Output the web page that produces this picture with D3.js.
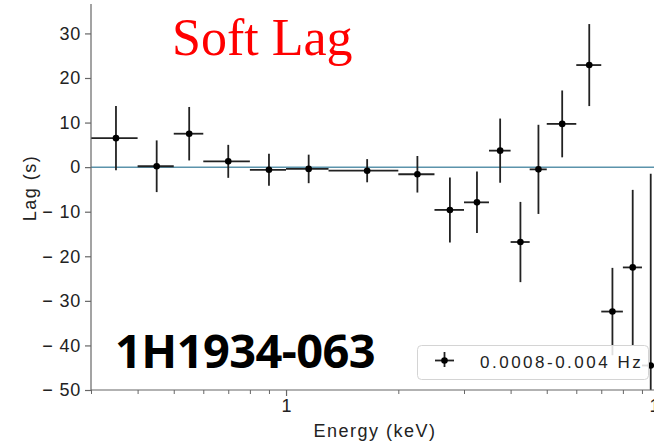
<!DOCTYPE html>
<html>
<head>
<meta charset="utf-8">
<script src="https://cdn.jsdelivr.net/npm/d3@7"></script>
<style>
  body { margin: 0; background: #fff; }
  svg { display: block; }
</style>
</head>
<body>
<svg id="chart" width="654" height="444"></svg>
<script>
// energy bins (keV)
const eLo  = [0.3, 0.4, 0.5, 0.6, 0.8, 1.0, 1.3, 2.0, 2.5, 3.0, 3.5, 4.0, 4.5, 5.0, 6.0, 7.0, 8.0, 9.0];
const eHi  = [0.4, 0.5, 0.6, 0.8, 1.0, 1.3, 2.0, 2.5, 3.0, 3.5, 4.0, 4.5, 5.0, 6.0, 7.0, 8.0, 9.0, 10.0];
const eMid = [0.35, 0.45, 0.55, 0.7, 0.9, 1.15, 1.65, 2.25, 2.75, 3.25, 3.75, 4.25, 4.75, 5.5, 6.5, 7.5, 8.5, 9.5];
// lag (s) and its 1-sigma error
const lag    = [6.5, 0.2, 7.5, 1.3, -0.6, -0.4, -0.8, -1.6, -9.6, -7.9, 3.7, -16.8, -0.5, 9.7, 22.9, -32.4, -22.5, -44.5];
const lagErr = [7.2, 5.8, 6.0, 3.7, 3.6, 3.2, 2.6, 4.1, 7.3, 6.9, 7.2, 9.0, 10.0, 7.5, 9.2, 9.8, 17.4, 43.0];

const yTicks = [-50, -40, -30, -20, -10, 0, 10, 20, 30];
const xMajor = [1, 10];
const xMinor = [0.3, 0.4, 0.5, 0.6, 0.7, 0.8, 0.9, 2, 3, 4, 5, 6, 7, 8, 9];
const legendLabel = "0.0008-0.004 Hz";

const svg = d3.select('#chart');

// plot area
const pLeft = 91, pBottom = 390, pTop = 4;
const x = d3.scaleLog().domain([0.3, 10.5]).range([pLeft, pLeft + 373 * Math.log10(10.5 / 0.3)]);
const y = d3.scaleLinear().domain([-50, 36.6]).range([pBottom, pTop]);
const pRight = x.range()[1];

const axisCol = '#666';
const sans = '"Liberation Sans", Arial, sans-serif';

svg.append('defs').append('clipPath').attr('id', 'clip')
  .append('rect').attr('x', pLeft).attr('y', pTop)
  .attr('width', pRight - pLeft).attr('height', pBottom - pTop);

// zero line
svg.append('line')
  .attr('x1', pLeft).attr('x2', pRight)
  .attr('y1', y(0)).attr('y2', y(0))
  .attr('stroke', '#5b93ab').attr('stroke-width', 1.5);

// error bars + points
const pts = svg.append('g').attr('clip-path', 'url(#clip)');
const data = lag.map((v, i) => ({lo: eLo[i], hi: eHi[i], mid: eMid[i], v: v, err: lagErr[i]}));
const bars = pts.selectAll('.pt').data(data).enter().append('g').attr('class', 'pt');
bars.append('line')
  .attr('x1', d => x(d.lo)).attr('x2', d => x(d.hi))
  .attr('y1', d => y(d.v)).attr('y2', d => y(d.v))
  .attr('stroke', '#222').attr('stroke-width', 1.8);
bars.append('line')
  .attr('x1', d => x(d.mid)).attr('x2', d => x(d.mid))
  .attr('y1', d => y(d.v - d.err)).attr('y2', d => y(d.v + d.err))
  .attr('stroke', '#222').attr('stroke-width', 1.8);
bars.append('circle')
  .attr('cx', d => x(d.mid)).attr('cy', d => y(d.v)).attr('r', 3.3)
  .attr('fill', '#000');

// y axis
const yAxis = svg.append('g').attr('transform', `translate(${pLeft},0)`)
  .call(d3.axisLeft(y).tickValues(yTicks).tickSize(6).tickPadding(4)
    .tickFormat(d => d < 0 ? '\u2212 ' + Math.abs(d) : String(d)));
yAxis.select('.domain').attr('stroke', axisCol).attr('stroke-width', 1.2)
  .attr('d', `M0,${pBottom}V${pTop}`);
yAxis.selectAll('.tick line').attr('stroke', axisCol).attr('stroke-width', 1.2);
yAxis.selectAll('.tick text').attr('font-family', sans).attr('font-size', 18)
  .attr('fill', '#222').attr('letter-spacing', 0.8);

// x axis
const xAxis = svg.append('g').attr('transform', `translate(0,${pBottom})`)
  .call(d3.axisBottom(x).tickValues(xMajor).tickSize(6).tickPadding(3)
    .tickFormat(d3.format('d')));
xAxis.select('.domain').attr('stroke', axisCol).attr('stroke-width', 1.2)
  .attr('d', `M${pLeft},0H${pRight}`);
xAxis.selectAll('.tick line').attr('stroke', axisCol).attr('stroke-width', 1.2);
xAxis.selectAll('.tick text').attr('font-family', sans).attr('font-size', 18).attr('fill', '#222');
const xMin = svg.append('g').attr('transform', `translate(0,${pBottom})`)
  .call(d3.axisBottom(x).tickValues(xMinor).tickSize(4).tickFormat(''));
xMin.select('.domain').remove();
xMin.selectAll('.tick line').attr('stroke', axisCol).attr('stroke-width', 1);

// axis labels
svg.append('text')
  .attr('x', 375).attr('y', 437).attr('text-anchor', 'middle')
  .attr('font-family', sans).attr('font-size', 18).attr('letter-spacing', 1.5)
  .attr('fill', '#222').text('Energy (keV)');
svg.append('text')
  .attr('transform', 'translate(36,188) rotate(-90)').attr('text-anchor', 'middle')
  .attr('font-family', sans).attr('font-size', 18).attr('letter-spacing', 1.5)
  .attr('fill', '#222').text('Lag (s)');

// annotations
svg.append('text')
  .attr('x', 172).attr('y', 55)
  .attr('font-family', '"Liberation Serif", "Times New Roman", serif').attr('font-size', 52)
  .attr('fill', '#ff0000').text('Soft Lag');
svg.append('text')
  .attr('x', 115).attr('y', 368)
  .attr('font-family', '"Noto Sans", "Open Sans", sans-serif').attr('font-weight', 700)
  .attr('font-size', 47).attr('letter-spacing', -0.6).attr('fill', '#000').text('1H1934-063');

// legend
const lg = svg.append('g');
lg.append('rect')
  .attr('x', 417.5).attr('y', 345.5).attr('width', 231).attr('height', 34)
  .attr('rx', 4).attr('fill', 'rgba(255,255,255,0.85)')
  .attr('stroke', '#d4d4d4').attr('stroke-width', 1);
lg.append('line').attr('x1', 435).attr('x2', 454).attr('y1', 360.5).attr('y2', 360.5)
  .attr('stroke', '#222').attr('stroke-width', 1.8);
lg.append('line').attr('x1', 444.5).attr('x2', 444.5).attr('y1', 352).attr('y2', 367)
  .attr('stroke', '#222').attr('stroke-width', 1.8);
lg.append('circle').attr('cx', 444.5).attr('cy', 360.5).attr('r', 3.3).attr('fill', '#000');
lg.append('text')
  .attr('x', 480).attr('y', 368)
  .attr('font-family', sans).attr('font-size', 17).attr('letter-spacing', 2.5)
  .attr('fill', '#222').text(legendLabel);
</script>
</body>
</html>
